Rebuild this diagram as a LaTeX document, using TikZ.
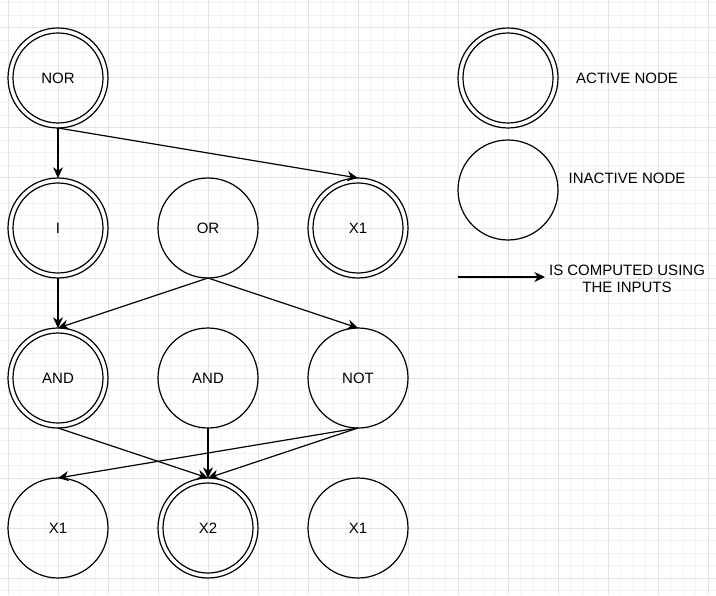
\documentclass[tikz,border=0pt]{standalone}
\usepackage{fontspec}
\setmainfont{Liberation Sans}
\usetikzlibrary{arrows.meta}
\definecolor{gridminor}{HTML}{F3F3F3}
\definecolor{gridmajor}{HTML}{E3E3E3}
\tikzset{
  gnode/.style={circle, draw, line width=0.9pt, minimum size=75pt, inner sep=0pt, outer sep=0pt,
    font=\fontsize{11.25pt}{13pt}\selectfont},
  activenode/.style={gnode, append after command={
      \pgfextra{\draw[line width=0.9pt] (\tikzlastnode.center) circle[radius=33.75pt];}}},
  flow/.style={line width=0.9pt, -{Stealth[length=8pt,width=7.5pt,inset=2.5pt]}},
  legtext/.style={font=\fontsize{11.25pt}{12.75pt}\selectfont, align=center, inner sep=0pt}
}
\begin{document}
\begin{tikzpicture}[x=0.75pt,y=-0.75pt]
\useasboundingbox (0,0) rectangle (716,595);
\fill[white] (0,0) rectangle (716,595);
% grid
\foreach \i in {0,...,57} {
  \pgfmathsetmacro{\xx}{8+12.5*\i}
  \draw[gridminor, line width=0.75pt] (\xx,0) -- (\xx,595);
}
\foreach \i in {-2,...,46} {
  \pgfmathsetmacro{\yy}{28+12.5*\i}
  \draw[gridminor, line width=0.75pt] (0,\yy) -- (716,\yy);
}
\foreach \i in {0,...,14} {
  \pgfmathsetmacro{\xx}{8+50*\i}
  \draw[gridmajor, line width=0.75pt] (\xx,0) -- (\xx,595);
}
\foreach \i in {0,...,11} {
  \pgfmathsetmacro{\yy}{28+50*\i}
  \draw[gridmajor, line width=0.75pt] (0,\yy) -- (716,\yy);
}
% nodes
\node[activenode] (nor) at (58,78) {NOR};
\node[activenode] (i) at (58,228) {I};
\node[gnode] (or) at (208,228) {OR};
\node[activenode] (xa) at (358,228) {X1};
\node[activenode] (and1) at (58,378) {AND};
\node[gnode] (and2) at (208,378) {AND};
\node[gnode] (not) at (358,378) {NOT};
\node[gnode] (xb) at (58,528) {X1};
\node[activenode] (x2) at (208,528) {X2};
\node[gnode] (xc) at (358,528) {X1};
% edges
\draw[flow] (nor.south) -- (i.north);
\draw[flow] (nor.south) -- (xa.north);
\draw[flow] (i.south) -- (and1.north);
\draw[flow] (or.south) -- (and1.north);
\draw[flow] (or.south) -- (not.north);
\draw[flow] (and1.south) -- (x2.north);
\draw[flow] (and2.south) -- (x2.north);
\draw[flow] (not.south) -- (x2.north);
\draw[flow] (not.south) -- (xb.north);
% legend
\node[activenode] (legact) at (508,78) {};
\node[gnode] (leginact) at (508,190) {};
\node[legtext] (tact) at (627,78) {ACTIVE NODE};
\node[legtext] (tinact) at (627,178) {INACTIVE NODE};
\node[legtext] (tcomp) at (627,278.5) {IS COMPUTED USING\\THE INPUTS};
\coordinate (la1) at (458,277);
\coordinate (la2) at (545,277);
\draw[flow] (la1) -- (la2);
\end{tikzpicture}
\end{document}
